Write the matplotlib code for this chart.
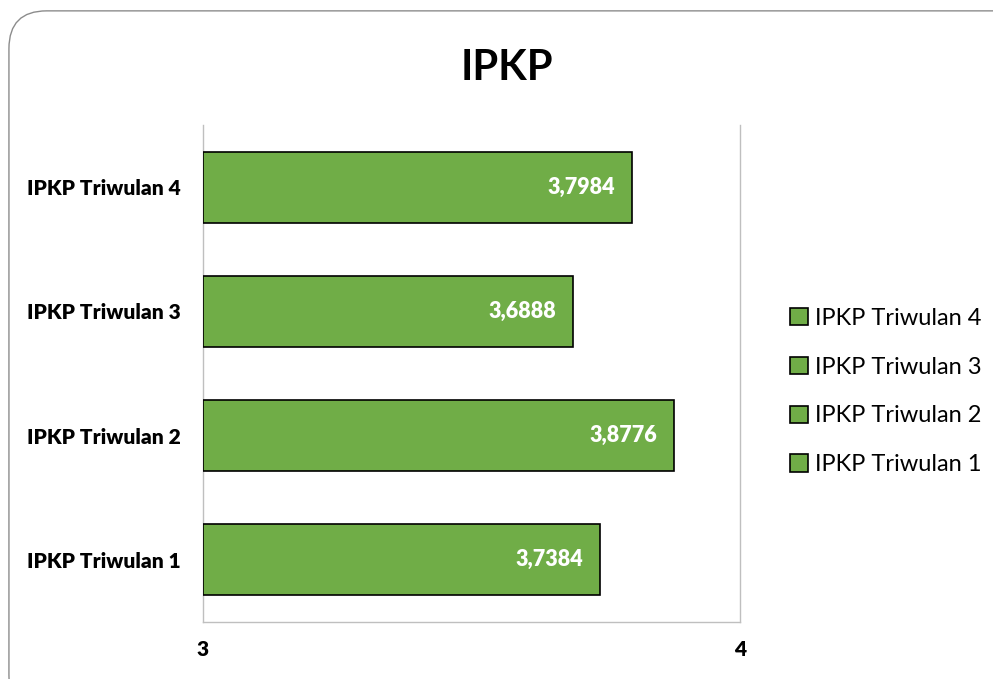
import matplotlib.pyplot as plt
from matplotlib.patches import FancyBboxPatch

categories = ["IPKP Triwulan 1", "IPKP Triwulan 2", "IPKP Triwulan 3", "IPKP Triwulan 4"]
values = [3.7384, 3.8776, 3.6888, 3.7984]
x_ticks = [3, 4]
title = "IPKP"

bar_color = "#70ad47"
grid_color = "#bfbfbf"

plt.rcParams["font.family"] = ["Lato", "DejaVu Sans"]


def fmt(v):
    return f"{v:.4f}".replace(".", ",")


def main():
    fig = plt.figure(figsize=(9.93, 6.79), dpi=100)

    # rounded chart-area border
    frame = FancyBboxPatch((0.009, -0.05), 1.1, 1.034, boxstyle="round,pad=0,rounding_size=0.038",
                           transform=fig.transFigure, facecolor="none", edgecolor="#8c8c8c",
                           linewidth=1.0, mutation_aspect=993 / 679, zorder=-1)
    fig.patches.append(frame)

    ax = fig.add_axes([0.2044, 0.0839, 0.5408, 0.732])
    ax.set_facecolor("none")

    handles = []
    for i, (cat, v) in enumerate(zip(categories, values)):
        b = ax.barh(i, v - x_ticks[0], left=x_ticks[0], height=0.57, color=bar_color,
                    edgecolor="black", linewidth=1.2, label=cat, zorder=3)
        handles.append(b)
        ax.annotate(fmt(v), xy=(v, i), xytext=(-12, 0), textcoords="offset points",
                    ha="right", va="center", color="white", fontsize=15.5, fontweight="heavy", zorder=4)

    ax.set_xlim(x_ticks[0], x_ticks[-1])
    ax.set_ylim(-0.5, len(categories) - 0.5)
    ax.set_xticks(x_ticks)
    ax.set_xticklabels([str(t) for t in x_ticks], fontsize=15, fontweight="heavy")
    ax.set_yticks(range(len(categories)))
    ax.set_yticklabels(categories, fontsize=15, fontweight="heavy")
    ax.tick_params(axis="both", length=0)
    ax.tick_params(axis="x", pad=13)
    ax.tick_params(axis="y", pad=16)

    for s in ["left", "right", "bottom"]:
        ax.spines[s].set_color(grid_color)
        ax.spines[s].set_linewidth(1.0)
    ax.spines["top"].set_visible(False)

    fig.text(0.5103, 0.9, title, ha="center", va="center", fontsize=30, fontweight="bold")

    fig.legend(handles[::-1], categories[::-1], loc="center left", bbox_to_anchor=(0.774, 0.4234),
               frameon=False, fontsize=17, handlelength=0.75, handleheight=0.75,
               handletextpad=0.3, labelspacing=1.18)

    fig.savefig("out.png", dpi=100)


if __name__ == "__main__":
    main()
